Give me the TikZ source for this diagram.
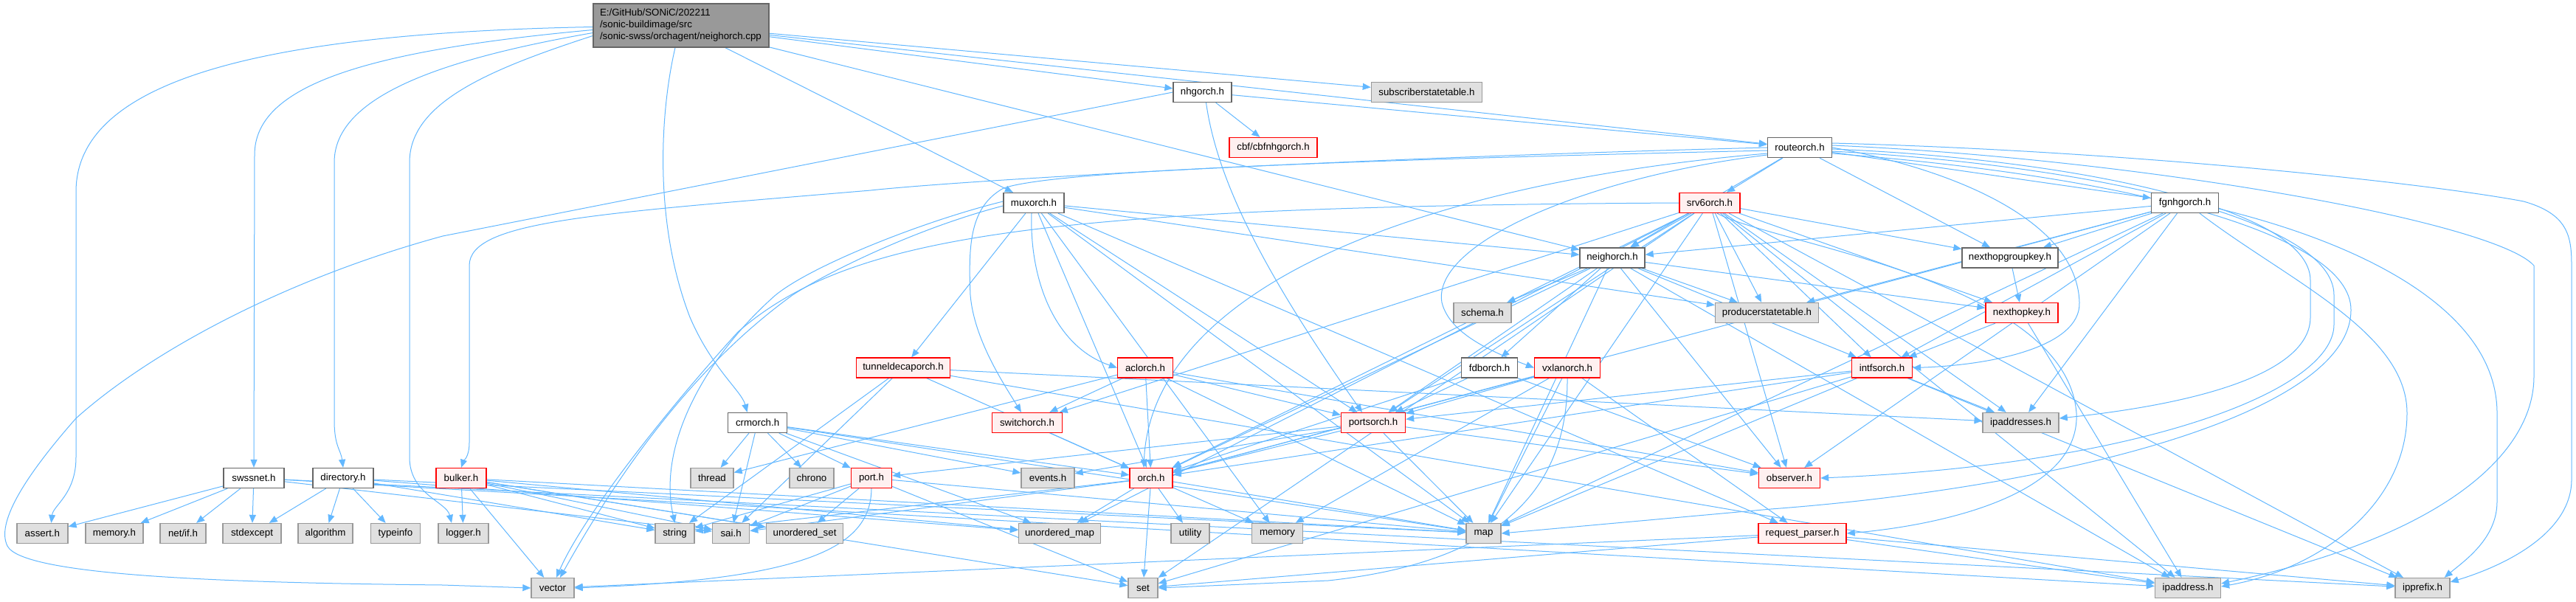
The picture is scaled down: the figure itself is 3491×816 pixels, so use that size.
\documentclass[tikz,border=0pt]{standalone}
\usepackage{fontspec}
\setmainfont{Liberation Sans}
\usetikzlibrary{arrows.meta,calc}
\definecolor{eb}{HTML}{63B8FF}
\definecolor{gfill}{HTML}{E0E0E0}
\definecolor{gdraw}{HTML}{999999}
\definecolor{ndraw}{HTML}{666666}
\definecolor{rfill}{HTML}{FFF0F0}
\definecolor{rootfill}{HTML}{999999}
\pgfdeclarelayer{bg}
\pgfsetlayers{bg,main}
\tikzset{
  nbox/.style={draw=ndraw, fill=white, line width=1.3pt, minimum height=27pt, inner sep=0pt},
  gbox/.style={draw=gdraw, fill=gfill, line width=1.3pt, minimum height=27pt, inner sep=0pt},
  rbox/.style={draw=red, fill=rfill, line width=1.3pt, minimum height=27pt, inner sep=0pt},
  rootbox/.style={draw=ndraw, fill=rootfill, line width=1.3pt, minimum height=59pt, text width=220pt, align=left, inner xsep=9pt, inner ysep=0pt},
  edg/.style={draw=eb, line width=1pt, -{Triangle[length=11pt,width=9pt]}},
}
\begin{document}
\begin{tikzpicture}[x=1pt,y=-1pt,font=\fontsize{13.3}{16}\selectfont]
\useasboundingbox (0,0) rectangle (3491,816);
% nodes
\node[rootbox] (root) at (923,34.5) {E:/GitHub/SONiC/202211\\/sonic-buildimage/src\\/sonic-swss/orchagent/neighorch.cpp};
\node[nbox, minimum width=79] (nhgorch) at (1629.5,125) {nhgorch.h};
\node[gbox, minimum width=150] (subscriber) at (1933.4,125) {subscriberstatetable.h};
\node[rbox, minimum width=119] (cbf) at (1725.5,200) {cbf/cbfnhgorch.h};
\node[nbox, minimum width=87] (routeorch) at (2439,200) {routeorch.h};
\node[nbox, minimum width=82] (muxorch) at (1401,275) {muxorch.h};
\node[rbox, minimum width=82] (srv6orch) at (2317,275) {srv6orch.h};
\node[nbox, minimum width=91] (fgnhgorch) at (2961,275) {fgnhgorch.h};
\node[nbox, minimum width=88] (neighorch) at (2185,349.5) {neighorch.h};
\node[nbox, minimum width=130] (nhgkey) at (2724,349.5) {nexthopgroupkey.h};
\node[gbox, minimum width=78] (schema) at (2009,424) {schema.h};
\node[gbox, minimum width=140] (producer) at (2394.5,424) {producerstatetable.h};
\node[rbox, minimum width=98] (nexthopkey) at (2740,424) {nexthopkey.h};
\node[rbox, minimum width=127] (tunneldecap) at (1224,498.5) {tunneldecaporch.h};
\node[rbox, minimum width=75] (aclorch) at (1552,498.5) {aclorch.h};
\node[nbox, minimum width=76] (fdborch) at (2018.6,498.5) {fdborch.h};
\node[rbox, minimum width=89] (vxlanorch) at (2124,498.5) {vxlanorch.h};
\node[rbox, minimum width=82] (intfsorch) at (2550.5,498.5) {intfsorch.h};
\node[nbox, minimum width=80] (crmorch) at (1026.6,573) {crmorch.h};
\node[rbox, minimum width=95] (switchorch) at (1392,573) {switchorch.h};
\node[rbox, minimum width=87] (portsorch) at (1861,573) {portsorch.h};
\node[gbox, minimum width=103] (ipaddresses) at (2738.6,573) {ipaddresses.h};
\node[nbox, minimum width=82] (swssnet) at (344,648) {swssnet.h};
\node[nbox, minimum width=82] (directory) at (465,648) {directory.h};
\node[rbox, minimum width=68] (bulker) at (625,648) {bulker.h};
\node[gbox, minimum width=58] (thread) at (965,648) {thread};
\node[gbox, minimum width=60] (chrono) at (1100,648) {chrono};
\node[rbox, minimum width=55] (port) at (1181,648) {port.h};
\node[gbox, minimum width=72] (events) at (1420,648) {events.h};
\node[rbox, minimum width=58] (orch) at (1560,648) {orch.h};
\node[rbox, minimum width=83] (observer) at (2425,648) {observer.h};
\node[gbox, minimum width=69] (assert) at (57.4,723) {assert.h};
\node[gbox, minimum width=78] (memoryh) at (155,723) {memory.h};
\node[gbox, minimum width=62] (netif) at (248,723) {net/if.h};
\node[gbox, minimum width=79] (stdexcept) at (341.5,723) {stdexcept};
\node[gbox, minimum width=74] (algorithm) at (441,723) {algorithm};
\node[gbox, minimum width=67] (typeinfo) at (536,723) {typeinfo};
\node[gbox, minimum width=68] (logger) at (628,723) {logger.h};
\node[gbox, minimum width=53] (string) at (914.6,723) {string};
\node[gbox, minimum width=50] (sai) at (990.6,723) {sai.h};
\node[gbox, minimum width=104] (uset) at (1090.6,723) {unordered\_set};
\node[gbox, minimum width=111] (umap) at (1436,723) {unordered\_map};
\node[gbox, minimum width=52] (utility) at (1613,723) {utility};
\node[gbox, minimum width=69] (memory) at (1731,723) {memory};
\node[gbox, minimum width=47] (map) at (2010.5,723) {map};
\node[rbox, minimum width=119] (reqparser) at (2442.6,723) {request\_parser.h};
\node[gbox, minimum width=58] (vector) at (749,797) {vector};
\node[gbox, minimum width=40] (set) at (1549,797) {set};
\node[gbox, minimum width=89] (ipaddress) at (2965,797) {ipaddress.h};
\node[gbox, minimum width=74] (ipprefix) at (3283,797) {ipprefix.h};

\begin{pgfonlayer}{bg}
\fill[white] (0,0) rectangle (3491,816);
% curved connectors
\draw[edg] ($(root.west)+(0,2)$) .. controls (350,45) and (103,110) .. (103,260) -- (103,620) .. controls (103,670) and (72,685) .. ($(assert.north)+(12,0)$);
\draw[edg] ($(root.west)+(0,6)$) .. controls (480,70) and (345,120) .. (345,210) -- (swssnet.north);
\draw[edg] ($(root.west)+(0,10)$) .. controls (600,80) and (453,130) .. (453,220) -- (453,570) .. controls (453,605) and (462,610) .. (directory.north);
\draw[edg] ($(root.west)+(0,14)$) .. controls (660,95) and (555,140) .. (555,220) -- (555,620) .. controls (555,670) and (605,680) .. ($(logger.north)+(-16,0)$);
\draw[edg] ($(root.south)+(-8,0)$) .. controls (895,150) and (885,300) .. (935,430) .. controls (965,500) and (1005,530) .. ($(crmorch.north)+(-14,0)$);
\draw[edg] (nhgorch.west) -- (600,320) .. controls (380,380) and (200,480) .. (103,567) .. controls (30,650) and (-5,710) .. (10,740) .. controls (30,780) and (300,790) .. (600,793) -- (vector.west);
\draw[edg] ($(nhgorch.south)+(5,0)$) .. controls (1650,250) and (1720,380) .. ($(portsorch.north)+(-15,0)$);
\draw[edg] (routeorch.west) .. controls (1800,215) and (1300,245) .. (1180,258) .. controls (800,290) and (636,300) .. (636,360) -- (636,600) .. controls (636,620) and (628,625) .. (bulker.north);
\draw[edg] ($(routeorch.west)+(0,4)$) .. controls (1700,220) and (1420,235) .. (1360,255) .. controls (1315,280) and (1312,330) .. (1315,400) .. controls (1320,460) and (1360,520) .. ($(switchorch.north)+(-8,0)$);
\draw[edg] ($(routeorch.west)+(0,8)$) .. controls (1900,250) and (1560,400) .. ($(orch.north)+(-10,0)$);
\draw[edg] ($(routeorch.west)+(0,10)$) .. controls (2150,240) and (1940,330) .. (1954,410) .. controls (1965,455) and (2030,480) .. (vxlanorch.west);
\draw[edg] (routeorch.east) .. controls (2650,230) and (2815,300) .. (2818,410) .. controls (2820,470) and (2700,495) .. (intfsorch.east);
\draw[edg] ($(routeorch.east)+(0,-6)$) .. controls (2900,205) and (3300,250) .. (3420,273) .. controls (3480,290) and (3485,320) .. (3485,360) -- (3485,650) .. controls (3485,720) and (3400,765) .. ($(ipprefix.east)+(0,-8)$);
\draw[edg] ($(routeorch.east)+(0,-3)$) .. controls (2900,215) and (3380,300) .. (3434,360) -- (3434,510) .. controls (3434,620) and (3300,730) .. ($(ipaddress.east)+(0,-6)$);
\draw[edg] ($(routeorch.east)+(0,2)$) .. controls (2800,215) and (3131,280) .. (3131,380) -- (3131,430) .. controls (3131,500) and (3000,545) .. ($(ipaddresses.east)+(0,-6)$);
\draw[edg] ($(routeorch.east)+(0,5)$) .. controls (2850,225) and (3163,300) .. (3163,400) -- (3163,440) .. controls (3163,530) and (2900,630) .. (observer.east);
\draw[edg] ($(routeorch.east)+(0,8)$) .. controls (2900,240) and (3186,320) .. (3186,420) .. controls (3186,560) and (2800,660) .. (2400,690) -- (map.east);
\draw[edg] ($(fgnhgorch.east)+(0,8)$) .. controls (3200,330) and (3384,420) .. (3384,560) -- (3384,680) .. controls (3384,730) and (3340,760) .. ($(ipprefix.north east)+(-8,0)$);
\draw[edg] ($(fgnhgorch.south)+(20,0)$) .. controls (3100,380) and (3262,450) .. (3262,560) .. controls (3262,680) and (3150,770) .. ($(ipaddress.east)+(0,-2)$);
\draw[edg] ($(muxorch.south)+(-3,0)$) .. controls (1395,380) and (1430,470) .. (aclorch.west);
\draw[edg] ($(muxorch.west)+(0,-2)$) .. controls (1250,300) and (1100,360) .. (1051,400) .. controls (960,480) and (890,600) .. (string.north);
\draw[edg] ($(muxorch.west)+(0,4)$) .. controls (1240,310) and (1120,370) .. (1074,400) .. controls (950,490) and (850,620) .. ($(vector.north)+(10,0)$);
\draw[edg] (srv6orch.west) .. controls (1400,280) and (1150,320) .. (1000,450) .. controls (900,560) and (790,700) .. ($(vector.north)+(5,0)$);
\draw[edg] ($(srv6orch.south)+(10,0)$) .. controls (2400,330) and (2800,380) .. (2814,560) .. controls (2820,680) and (2600,715) .. (reqparser.east);
\draw[edg] (vxlanorch.south) .. controls (2125,650) and (2050,760) .. (1800,787) -- (set.east);
\draw[edg] (port.south) .. controls (1180,740) and (1100,785) .. (vector.east);
% straight connectors
\foreach \a/\b in {root/muxorch, root/nhgorch, root/subscriber, root/routeorch, root/neighorch,
  nhgorch/cbf, nhgorch/routeorch,
  routeorch/srv6orch, routeorch/nhgkey, routeorch/fgnhgorch, routeorch/neighorch,
  muxorch/tunneldecap, muxorch/neighorch, muxorch/producer, muxorch/reqparser, muxorch/memory, muxorch/map, muxorch/portsorch, muxorch/orch,
  srv6orch/map, srv6orch/set, srv6orch/umap, srv6orch/orch, srv6orch/observer, srv6orch/switchorch, srv6orch/portsorch, srv6orch/intfsorch, srv6orch/nhgkey, srv6orch/nexthopkey, srv6orch/neighorch, srv6orch/producer, srv6orch/ipaddress, srv6orch/ipaddresses, srv6orch/ipprefix,
  fgnhgorch/orch, fgnhgorch/observer, fgnhgorch/intfsorch, fgnhgorch/neighorch, fgnhgorch/producer, fgnhgorch/ipaddresses, fgnhgorch/nhgkey, fgnhgorch/map,
  neighorch/orch, neighorch/observer, neighorch/portsorch, neighorch/intfsorch, neighorch/fdborch, neighorch/ipaddress, neighorch/nexthopkey, neighorch/producer, neighorch/schema, neighorch/map,
  nhgkey/nexthopkey, nexthopkey/intfsorch, nexthopkey/ipaddress,
  tunneldecap/orch, tunneldecap/sai, tunneldecap/string, tunneldecap/ipaddresses, tunneldecap/ipaddress,
  aclorch/thread, aclorch/switchorch, aclorch/orch, aclorch/portsorch, aclorch/observer, aclorch/map,
  fdborch/portsorch, fdborch/orch, fdborch/observer,
  vxlanorch/portsorch, vxlanorch/orch, vxlanorch/memory, vxlanorch/map, vxlanorch/reqparser,
  intfsorch/orch, intfsorch/portsorch, intfsorch/ipaddresses, intfsorch/ipprefix, intfsorch/map, intfsorch/set,
  crmorch/thread, crmorch/sai, crmorch/chrono, crmorch/port, crmorch/orch, crmorch/events, crmorch/umap, crmorch/map,
  switchorch/orch,
  portsorch/map, portsorch/orch, portsorch/port, portsorch/observer, portsorch/events,
  swssnet/assert, swssnet/memoryh, swssnet/netif, swssnet/stdexcept, swssnet/sai, swssnet/ipaddress, swssnet/ipprefix,
  directory/stdexcept, directory/algorithm, directory/typeinfo, directory/string, directory/map, directory/umap,
  bulker/logger, bulker/vector, bulker/string, bulker/sai, bulker/uset, bulker/umap, bulker/map, bulker/set,
  port/sai, port/set, port/string, port/map, port/uset,
  orch/umap, orch/utility, orch/memory, orch/set, orch/map, orch/sai, orch/string,
  reqparser/ipaddress, reqparser/ipprefix, reqparser/vector, reqparser/set}
  \draw[edg] (\a) -- (\b);
\end{pgfonlayer}
\end{tikzpicture}
\end{document}
